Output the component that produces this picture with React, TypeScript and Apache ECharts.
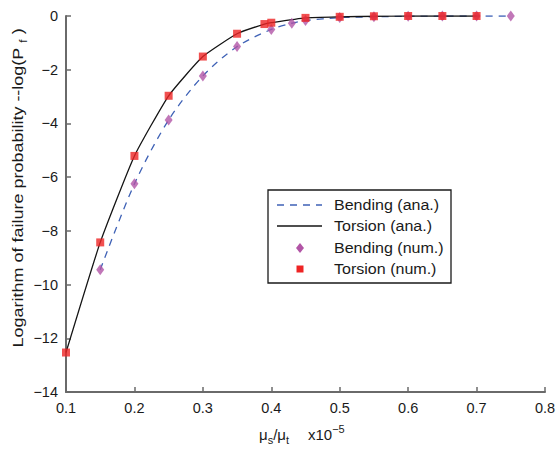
import React, { useEffect, useRef } from "react";
import * as echarts from "echarts";

const xTicks = [0.1, 0.2, 0.3, 0.4, 0.5, 0.6, 0.7, 0.8];
const yTicks = [0, -2, -4, -6, -8, -10, -12, -14];

const torsionX = [0.1, 0.15, 0.2, 0.25, 0.3, 0.35, 0.39, 0.4, 0.45, 0.5, 0.55, 0.6, 0.65, 0.7];
const torsionY = [-12.53, -8.43, -5.21, -2.97, -1.51, -0.66, -0.3, -0.25, -0.07, -0.03, -0.01, 0, 0, 0];

const bendingX = [0.15, 0.2, 0.25, 0.3, 0.35, 0.4, 0.43, 0.45, 0.5, 0.55, 0.6, 0.65, 0.7, 0.75];
const bendingY = [-9.45, -6.25, -3.87, -2.23, -1.14, -0.5, -0.27, -0.17, -0.06, -0.03, -0.01, 0, 0, 0];

const legendNames = ["Bending (ana.)", "Torsion (ana.)", "Bending (num.)", "Torsion (num.)"];

const FONT = "Liberation Sans, Arial, Helvetica, sans-serif";

export default function App() {
  const ref = useRef<HTMLDivElement>(null);
  useEffect(() => {
    if (!ref.current) return;
    const chart = echarts.init(ref.current, null, { renderer: "svg" });
    const pair = (xs: number[], ys: number[]) => xs.map((x, i) => [x, ys[i]]);
    const lx = 268, ly = 190, lw = 183, lh = 93;
    const rows = [205, 226, 248, 269];
    const txt = (size: number) => ({ fontSize: size, fontFamily: FONT, fill: "#1a1a1a" });
    chart.setOption({
      animation: false,
      backgroundColor: "#fff",
      textStyle: { fontFamily: FONT },
      grid: { left: 66, right: 14, top: 16, bottom: 57 },
      xAxis: {
        type: "value",
        min: xTicks[0],
        max: xTicks[xTicks.length - 1],
        interval: 0.1,
        axisLine: { onZero: false, lineStyle: { color: "#6a6a6a", width: 2 } },
        axisTick: { inside: true, length: 5, lineStyle: { color: "#6a6a6a", width: 1.5 } },
        axisLabel: {
          color: "#1a1a1a",
          fontSize: 14.5,
          fontFamily: FONT,
          margin: 8,
          formatter: (v: number) => v.toFixed(1),
        },
        splitLine: { show: false },
      },
      yAxis: {
        type: "value",
        min: yTicks[yTicks.length - 1],
        max: yTicks[0],
        interval: 2,
        axisLine: { show: true, onZero: false, lineStyle: { color: "#6a6a6a", width: 2 } },
        axisTick: { show: true, inside: true, length: 5, lineStyle: { color: "#6a6a6a", width: 1.5 } },
        axisLabel: {
          color: "#1a1a1a",
          fontSize: 14.5,
          fontFamily: FONT,
          margin: 8,
          formatter: (v: number) => String(v).replace("-", "\u2212"),
        },
        splitLine: { show: false },
      },
      series: [
        {
          name: legendNames[0],
          type: "line",
          data: pair(bendingX, bendingY),
          symbol: "none",
          smooth: 0.3,
          lineStyle: { color: "#3f62b6", width: 1.3, type: [7, 6] },
          z: 2,
        },
        {
          name: legendNames[1],
          type: "line",
          data: pair(torsionX, torsionY),
          symbol: "none",
          smooth: 0.15,
          lineStyle: { color: "#151515", width: 1.3 },
          z: 2,
        },
        {
          name: legendNames[2],
          type: "scatter",
          data: pair(bendingX, bendingY),
          symbol: "diamond",
          symbolSize: [8, 11],
          itemStyle: { color: "#b255a6" },
          z: 3,
        },
        {
          name: legendNames[3],
          type: "scatter",
          data: pair(torsionX, torsionY),
          symbol: "rect",
          symbolSize: 8,
          itemStyle: { color: "#ee2424" },
          z: 4,
        },
      ],
      graphic: [
        {
          type: "text",
          x: 18,
          y: 188,
          rotation: Math.PI / 2,
          scaleX: 1.2,
          style: {
            text: "Logarithm of failure probability --log(P{sub|f} )",
            ...txt(15),
            align: "center",
            verticalAlign: "middle",
            rich: {
              sub: { ...txt(10), padding: [10, 0, 0, 4] },
            },
          },
        },
        {
          type: "text",
          x: 259,
          y: 434,
          style: {
            text: "\u03bc{sub|s}/\u03bc{sub|t}",
            ...txt(15),
            align: "left",
            verticalAlign: "middle",
            rich: {
              sub: { ...txt(11), padding: [11, 0, 0, 0] },
            },
          },
        },
        {
          type: "text",
          x: 308,
          y: 434,
          style: {
            text: "x10{sup|\u22125}",
            ...txt(15),
            align: "left",
            verticalAlign: "middle",
            rich: {
              sup: { ...txt(11), padding: [0, 0, 10, 0] },
            },
          },
        },
        {
          type: "rect",
          shape: { x: lx, y: ly, width: lw, height: lh },
          style: { fill: "#fff", stroke: "#1a1a1a", lineWidth: 1.3 },
          z: 100,
        },
        {
          type: "line",
          shape: { x1: 277, y1: rows[0], x2: 322, y2: rows[0] },
          style: { stroke: "#3f62b6", lineWidth: 1.3, lineDash: [7, 6] },
          z: 101,
        },
        {
          type: "line",
          shape: { x1: 277, y1: rows[1], x2: 322, y2: rows[1] },
          style: { stroke: "#151515", lineWidth: 1.3 },
          z: 101,
        },
        {
          type: "polygon",
          shape: { points: [[300, rows[2] - 5], [304, rows[2]], [300, rows[2] + 5], [296, rows[2]]] },
          style: { fill: "#b255a6" },
          z: 101,
        },
        {
          type: "rect",
          shape: { x: 296.5, y: rows[3] - 3.5, width: 7, height: 7 },
          style: { fill: "#ee2424" },
          z: 101,
        },
        ...legendNames.map((n, i) => ({
          type: "text",
          x: 334,
          y: rows[i],
          scaleX: 1.07,
          z: 101,
          style: {
            text: n,
            ...txt(15),
            align: "left",
            verticalAlign: "middle",
          },
        })),
      ],
    });
    return () => chart.dispose();
  }, []);
  return <div ref={ref} style={{ width: 559, height: 449, position: "absolute", left: 0, top: 0 }} />;
}
